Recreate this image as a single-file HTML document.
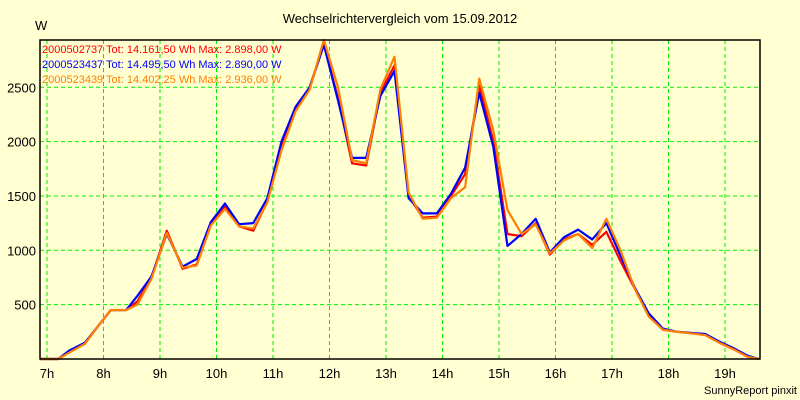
<!DOCTYPE html>
<html><head><meta charset="utf-8"><style>
body{margin:0;background:#ffffd2;}
svg{display:block;font-family:"Liberation Sans",sans-serif;}
</style></head><body>
<svg id="c" width="800" height="400">
<rect width="800" height="400" fill="#ffffd2"/>
<text x="400" y="23" text-anchor="middle" font-size="13" fill="#000">Wechselrichtervergleich vom 15.09.2012</text>
<text x="35" y="30" font-size="13" fill="#000">W</text>
<text x="797" y="394" text-anchor="end" font-size="11" fill="#000">SunnyReport pinxit</text>
<g id="grid"></g><g id="series"></g>
<rect x="40" y="40" width="720" height="319" fill="none" stroke="#000" stroke-width="1.5"/>
<g id="legend"></g>
</svg>
<script>
const times=[6.88,7.0,7.2,7.4,7.67,7.9,8.13,8.4,8.6,8.85,9.12,9.4,9.65,9.9,10.15,10.4,10.65,10.9,11.15,11.4,11.65,11.9,12.15,12.4,12.65,12.9,13.15,13.4,13.65,13.9,14.15,14.4,14.65,14.9,15.15,15.4,15.65,15.9,16.15,16.4,16.65,16.9,17.15,17.4,17.65,17.9,18.15,18.4,18.65,18.9,19.15,19.4,19.6];
const redVals=[0,0,0,70,140,300,450,450,530,750,1180,830,870,1250,1400,1220,1180,1450,1950,2300,2500,2898,2400,1800,1780,2450,2700,1500,1300,1310,1500,1700,2520,2000,1150,1130,1250,960,1100,1150,1050,1170,900,650,400,270,250,240,220,150,90,20,0];
const blueVals=[0,0,0,80,150,300,450,450,580,760,1150,850,920,1260,1430,1240,1250,1480,2000,2320,2500,2890,2380,1850,1850,2420,2650,1480,1340,1340,1520,1760,2450,1950,1040,1150,1290,980,1120,1190,1100,1250,950,660,420,280,250,240,230,160,100,30,0];
const orangeVals=[0,0,0,60,140,300,450,450,500,740,1160,840,860,1230,1380,1220,1200,1440,1920,2280,2480,2936,2500,1830,1800,2480,2780,1530,1290,1300,1480,1580,2580,2100,1370,1150,1240,970,1090,1150,1020,1290,1000,650,390,270,250,235,220,150,90,20,0];
const yTicks=[500,1000,1500,2000,2500];
const xTicks=[7,8,9,10,11,12,13,14,15,16,17,18,19];
const legendLabels=["2000502737 Tot: 14.161,50 Wh Max: 2.898,00 W","2000523437 Tot: 14.495,50 Wh Max: 2.890,00 W","2000523439 Tot: 14.402,25 Wh Max: 2.936,00 W"];
const colors=["#ff0000","#0000ff","#ff8000"];
const NS="http://www.w3.org/2000/svg";
const X=t=>47+(t-7)*56.5;
const Y=v=>359-v*0.1087;
function mk(tag,attrs,parent){const e=document.createElementNS(NS,tag);for(const k in attrs)e.setAttribute(k,attrs[k]);parent.appendChild(e);return e;}
const grid=document.getElementById('grid');
yTicks.forEach(v=>{
 const l=mk('line',{x1:40,x2:760,y1:Y(v),y2:Y(v),stroke:'#00ee00','stroke-dasharray':'4,3'},grid);
 
 
 const t=mk('text',{x:36,y:Y(v)+5,'text-anchor':'end','font-size':13},grid);t.textContent=v;
 
 
});
xTicks.forEach(h=>{
 const l=mk('line',{x1:X(h),x2:X(h),y1:40,y2:359,stroke:'#00ee00','stroke-dasharray':'4,3'},grid);
 
 
 const t=mk('text',{x:X(h),y:378,'text-anchor':'middle','font-size':13},grid);t.textContent=h+'h';
 
 
});
const sg=document.getElementById('series');
[redVals,blueVals,orangeVals].forEach((vals,i)=>{
 const p=mk('polyline',{points:vals.map((v,j)=>Math.max(40,X(times[j]))+','+Y(v)).join(' '),fill:'none',stroke:colors[i],'stroke-width':2.2,'stroke-linejoin':'round'},sg);
 
 
});
const lg=document.getElementById('legend');
legendLabels.forEach((s,i)=>{
 const t=mk('text',{x:42,y:53+i*15,'font-size':11,fill:colors[i]},lg);t.textContent=s;
 
 
});
</script>
</body></html>
